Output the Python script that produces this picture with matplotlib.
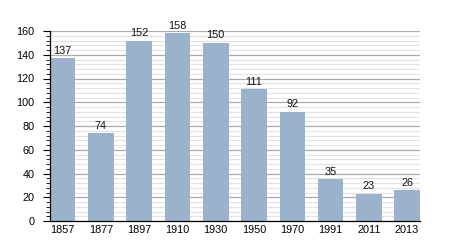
import matplotlib.pyplot as plt
from matplotlib.ticker import MultipleLocator
import numpy as np

plt.rcParams['font.family'] = ['Liberation Sans', 'DejaVu Sans']

years = ['1857', '1877', '1897', '1910', '1930', '1950', '1970', '1991', '2011', '2013']
population = [137, 74, 152, 158, 150, 111, 92, 35, 23, 26]

bar_color = '#9ab2cb'
fsize = 7.8

fig = plt.figure(figsize=(4.5, 2.5), dpi=100)
ax = fig.add_axes([0.111, 0.116, 0.822, 0.76])

x = np.arange(len(years))
width = 0.667
ax.bar(x, population, width=width, color=bar_color, zorder=3)

for xi, v in zip(x, population):
    ax.text(xi, v + 2.2, str(v), ha='center', va='bottom', fontsize=fsize, color='#111111', zorder=4)

ax.set_xlim(-width / 2, len(years) - 1 + width / 2)
ax.set_ylim(0, 160)
ax.set_xticks(x)
ax.set_xticklabels(years)
ax.yaxis.set_major_locator(MultipleLocator(20))
ax.yaxis.set_minor_locator(MultipleLocator(4))

# gridlines: dark every 20, light every 4
ax.grid(axis='y', which='major', color='#aaaaaa', linewidth=0.9, zorder=1)
ax.grid(axis='y', which='minor', color='#e2e2e2', linewidth=0.8, zorder=0)

for side in ['top', 'right']:
    ax.spines[side].set_visible(False)
ax.spines['left'].set_linewidth(0.9)
ax.spines['bottom'].set_linewidth(0.9)
ax.spines['left'].set_zorder(5)
ax.spines['bottom'].set_zorder(5)

ax.tick_params(axis='x', length=0, pad=3, labelsize=fsize)
ax.tick_params(axis='y', which='major', length=5, width=0.8, pad=6, labelsize=fsize)
ax.tick_params(axis='y', which='minor', length=3, width=0.6)

fig.savefig('out.png', dpi=100)
